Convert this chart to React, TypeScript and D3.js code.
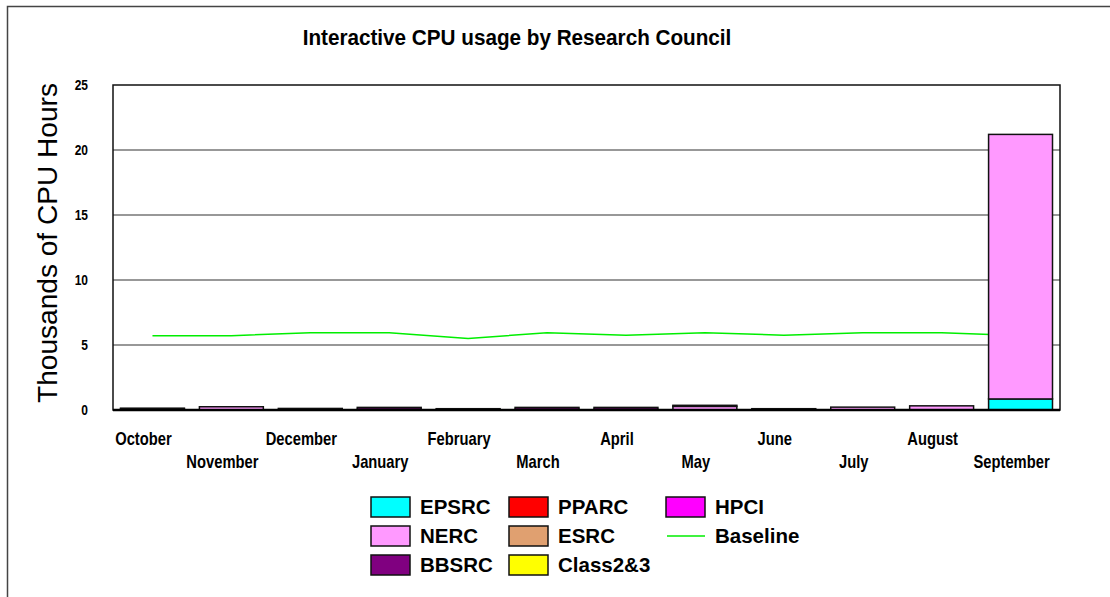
import React from "react";
import * as d3 from "d3";

const months = ["October","November","December","January","February","March","April","May","June","July","August","September"];
const EPSRC = [0.02, 0, 0, 0, 0, 0, 0, 0, 0, 0, 0, 0.85];
const NERC = [0.04, 0.25, 0.02, 0.05, 0.02, 0.05, 0.05, 0.28, 0.02, 0.22, 0.32, 20.35];
const BBSRC = [0.08, 0, 0.1, 0.15, 0.08, 0.15, 0.15, 0.08, 0.08, 0, 0, 0];
const PPARC = [0, 0, 0, 0, 0, 0, 0, 0, 0, 0, 0, 0];
const ESRC = [0, 0, 0, 0, 0, 0, 0, 0, 0, 0, 0, 0];
const CLASS23 = [0, 0, 0, 0, 0, 0, 0, 0, 0, 0, 0, 0];
const HPCI = [0, 0, 0, 0, 0, 0, 0, 0, 0, 0, 0, 0];
const baseline = [5.72, 5.72, 5.95, 5.95, 5.5, 5.95, 5.75, 5.95, 5.75, 5.95, 5.95, 5.72];
const yTicks = [0, 5, 10, 15, 20, 25];

const seriesNames = ["EPSRC", "NERC", "BBSRC", "PPARC", "ESRC", "Class2&3", "HPCI"];
const seriesValues = [EPSRC, NERC, BBSRC, PPARC, ESRC, CLASS23, HPCI];
const colors: Record<string, string> = {
  EPSRC: "#00ffff",
  NERC: "#ff99ff",
  BBSRC: "#800080",
  PPARC: "#ff0000",
  ESRC: "#e0a070",
  "Class2&3": "#ffff00",
  HPCI: "#ff00ff",
};

const legendItems = [
  { name: "EPSRC", col: 0, row: 0 },
  { name: "NERC", col: 0, row: 1 },
  { name: "BBSRC", col: 0, row: 2 },
  { name: "PPARC", col: 1, row: 0 },
  { name: "ESRC", col: 1, row: 1 },
  { name: "Class2&3", col: 1, row: 2 },
  { name: "HPCI", col: 2, row: 0 },
  { name: "Baseline", col: 2, row: 1 },
];

export default function App() {
  const W = 1110, H = 597;
  const left = 113, right = 1060, top = 85, bottom = 410;
  const x = d3.scaleBand<string>().domain(months).range([left, right]).paddingInner(0.19).paddingOuter(0.095);
  const y = d3.scaleLinear().domain([0, 25]).range([bottom, top]);

  const table = months.map((m, i) => {
    const o: any = { month: m };
    seriesNames.forEach((s, k) => (o[s] = seriesValues[k][i]));
    return o;
  });
  const stacked = d3.stack<any>().keys(seriesNames)(table);

  const line = d3.line<number>()
    .x((_, i) => (x(months[i]) as number) + x.bandwidth() / 2)
    .y((v) => y(v));

  const sans = "'Liberation Sans', Arial, Helvetica, sans-serif";

  const legendColX = [371, 509, 666];
  const legendRowY = [497, 526, 555];

  return (
    <svg width={W} height={H} style={{ position: "absolute", left: 0, top: 0, background: "#fff" }}>
      <rect x={7.5} y={6.5} width={1200} height={700} fill="#fff" stroke="#444" strokeWidth={1.5} />
      <text
        transform="translate(517,45) scale(0.92,1.1)"
        textAnchor="middle"
        fontFamily={sans}
        fontWeight="bold"
        fontSize={20}
        textLength={466}
        lengthAdjust="spacingAndGlyphs"
      >
        Interactive CPU usage by Research Council
      </text>
      <text
        transform={`translate(57,243) rotate(-90)`}
        textAnchor="middle"
        fontFamily={sans}
        fontSize={28}
        textLength={320}
        lengthAdjust="spacingAndGlyphs"
      >
        Thousands of CPU Hours
      </text>
      {yTicks.filter((t) => t > 0 && t < 25).map((t) => (
        <line key={"g" + t} x1={left} x2={right} y1={y(t)} y2={y(t)} stroke="#333" strokeWidth={1.2} />
      ))}
      {yTicks.map((t) => (
        <text
          key={"t" + t}
          transform={`translate(88,${y(t)}) scale(0.8,1)`}
          dy="0.35em"
          textAnchor="end"
          fontFamily={sans}
          fontWeight="bold"
          fontSize={15}
        >
          {t}
        </text>
      ))}
      <rect x={left} y={top} width={right - left} height={bottom - top} fill="none" stroke="#111" strokeWidth={1.5} />
      <path d={line(baseline) || ""} fill="none" stroke="#00ee00" strokeWidth={1.5} />
      {stacked.map((layer) => (
        <g key={layer.key}>
          {layer.map((d, i) =>
            d[1] - d[0] > 0 ? (
              <rect
                key={i}
                x={x(months[i])}
                y={y(d[1])}
                width={x.bandwidth()}
                height={y(d[0]) - y(d[1])}
                fill={colors[layer.key]}
                stroke="#111"
                strokeWidth={1.5}
              />
            ) : null
          )}
        </g>
      ))}
      <line x1={left} x2={right} y1={bottom} y2={bottom} stroke="#000" strokeWidth={2.5} />
      {months.map((m, i) => (
        <text
          key={m}
          transform={`translate(${(x(m) as number) + x.bandwidth() / 2 - 9},${i % 2 === 0 ? 445 : 468}) scale(0.82,1)`}
          textAnchor="middle"
          fontFamily={sans}
          fontWeight="bold"
          fontSize={18}
        >
          {m}
        </text>
      ))}
      {legendItems.map((it) => {
        const lx = legendColX[it.col];
        const ly = legendRowY[it.row];
        return (
          <g key={it.name}>
            {it.name === "Baseline" ? (
              <line x1={lx + 1} x2={lx + 39} y1={ly + 10} y2={ly + 10} stroke="#00ee00" strokeWidth={1.5} />
            ) : (
              <rect x={lx} y={ly} width={39} height={20} fill={colors[it.name]} stroke="#111" strokeWidth={1.5} />
            )}
            <text x={lx + 49} y={ly + 17} fontFamily={sans} fontWeight="bold" fontSize={20.5}>
              {it.name}
            </text>
          </g>
        );
      })}
    </svg>
  );
}
